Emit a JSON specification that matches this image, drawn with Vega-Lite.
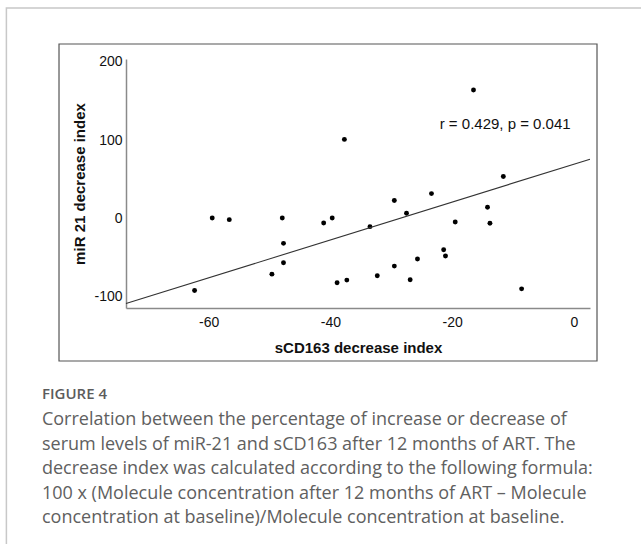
{
  "$schema": "https://vega.github.io/schema/vega-lite/v6.json",
  "width": 464,
  "height": 249,
  "autosize": {"type": "none"},
  "padding": {"left": 126, "top": 59, "right": 51, "bottom": 236},
  "background": "white",
  "config": {
    "view": {"stroke": null},
    "font": "Liberation Sans",
    "axis": {
      "grid": false,
      "ticks": false,
      "domainColor": "#8a8a8a",
      "domainWidth": 1.5,
      "labelColor": "#111111",
      "labelFontSize": 14,
      "labelFont": "Liberation Sans",
      "labelExpr": "toString(datum.value)",
      "titleFont": "Liberation Sans",
      "titleFontSize": 15,
      "titleFontWeight": "bold",
      "titleColor": "#111111"
    }
  },
  "datasets": {
    "points": [
      {"sCD163": -62.3, "miR21": -92.3},
      {"sCD163": -59.4, "miR21": 0.4},
      {"sCD163": -56.6, "miR21": -1.7},
      {"sCD163": -49.6, "miR21": -71.4},
      {"sCD163": -47.9, "miR21": 0.4},
      {"sCD163": -47.7, "miR21": -32.0},
      {"sCD163": -47.7, "miR21": -56.8},
      {"sCD163": -41.1, "miR21": -6.0},
      {"sCD163": -39.7, "miR21": 0.4},
      {"sCD163": -38.9, "miR21": -82.5},
      {"sCD163": -37.3, "miR21": -79.0},
      {"sCD163": -37.7, "miR21": 100.9},
      {"sCD163": -33.5, "miR21": -10.7},
      {"sCD163": -32.3, "miR21": -73.5},
      {"sCD163": -29.5, "miR21": 22.7},
      {"sCD163": -29.5, "miR21": -61.1},
      {"sCD163": -27.5, "miR21": 6.4},
      {"sCD163": -26.9, "miR21": -78.6},
      {"sCD163": -25.7, "miR21": -52.1},
      {"sCD163": -23.4, "miR21": 31.6},
      {"sCD163": -21.4, "miR21": -40.2},
      {"sCD163": -21.1, "miR21": -48.3},
      {"sCD163": -19.5, "miR21": -4.7},
      {"sCD163": -16.5, "miR21": 164.0},
      {"sCD163": -14.2, "miR21": 14.1},
      {"sCD163": -13.8, "miR21": -6.4},
      {"sCD163": -11.6, "miR21": 53.4},
      {"sCD163": -8.6, "miR21": -90.2}
    ],
    "fit": [
      {"sCD163": -73.56, "miR21": -109.0},
      {"sCD163": 2.63, "miR21": 75.6}
    ],
    "caption": [
      {
        "heading": "FIGURE 4",
        "body": [
          "Correlation between the percentage of increase or decrease of",
          "serum levels of miR-21 and sCD163 after 12 months of ART. The",
          "decrease index was calculated according to the following formula:",
          "100 x (Molecule concentration after 12 months of ART – Molecule",
          "concentration at baseline)/Molecule concentration at baseline."
        ]
      }
    ]
  },
  "layer": [
    {
      "data": {"name": "points"},
      "mark": {"type": "point", "filled": true, "shape": "circle", "size": 24, "color": "#000000", "opacity": 1},
      "encoding": {
        "x": {
          "field": "sCD163",
          "type": "quantitative",
          "scale": {"domain": [-73.56, 2.63], "nice": false, "zero": false},
          "axis": {"title": "sCD163 decrease index", "values": [-60, -40, -20, 0], "labelPadding": 7, "titlePadding": 11}
        },
        "y": {
          "field": "miR21",
          "type": "quantitative",
          "scale": {"domain": [-114.7, 203.7], "nice": false, "zero": false},
          "axis": {"title": "miR 21 decrease index", "values": [-100, 0, 100, 200], "labelPadding": 4, "titlePadding": 6}
        }
      }
    },
    {
      "data": {"name": "fit"},
      "mark": {"type": "line", "color": "#333333", "strokeWidth": 1.1},
      "encoding": {
        "x": {"field": "sCD163", "type": "quantitative"},
        "y": {"field": "miR21", "type": "quantitative"}
      }
    },
    {
      "data": {"values": [{"label": "r = 0.429, p = 0.041"}]},
      "mark": {"type": "text", "fontSize": 15, "font": "Liberation Sans", "color": "#111111", "align": "center", "baseline": "middle"},
      "encoding": {
        "x": {"datum": -11.3, "type": "quantitative"},
        "y": {"datum": 120.6, "type": "quantitative"},
        "text": {"field": "label", "type": "nominal"}
      }
    },
    {
      "data": {"name": "caption"},
      "mark": {"type": "text", "font": "Open Sans", "fontSize": 15, "fontWeight": 600, "color": "#5c5c5c", "align": "left", "baseline": "alphabetic"},
      "encoding": {
        "x": {"datum": -87.36, "type": "quantitative"},
        "y": {"datum": -231.5, "type": "quantitative"},
        "text": {"field": "heading", "type": "nominal"}
      }
    },
    {
      "data": {"name": "caption"},
      "mark": {"type": "text", "font": "Open Sans", "fontSize": 18, "lineHeight": 24.6, "color": "#606060", "align": "left", "baseline": "alphabetic"},
      "encoding": {
        "x": {"datum": -87.36, "type": "quantitative"},
        "y": {"datum": -264.3, "type": "quantitative"},
        "text": {"field": "body"}
      }
    },
    {
      "data": {"values": [{}]},
      "mark": {"type": "rect", "fill": null, "stroke": "#555555", "strokeWidth": 1.2},
      "encoding": {
        "x": {"datum": -84.56, "type": "quantitative"},
        "x2": {"datum": 3.78},
        "y": {"datum": 222.9, "type": "quantitative"},
        "y2": {"datum": -182.5}
      }
    },
    {
      "data": {"values": [{}]},
      "mark": {"type": "rect", "fill": null, "stroke": "#c8c8c8", "strokeWidth": 1.5},
      "encoding": {
        "x": {"datum": -93.2, "type": "quantitative"},
        "x2": {"datum": 14.1},
        "y": {"datum": 268.9, "type": "quantitative"},
        "y2": {"datum": -449.7}
      }
    }
  ]
}
